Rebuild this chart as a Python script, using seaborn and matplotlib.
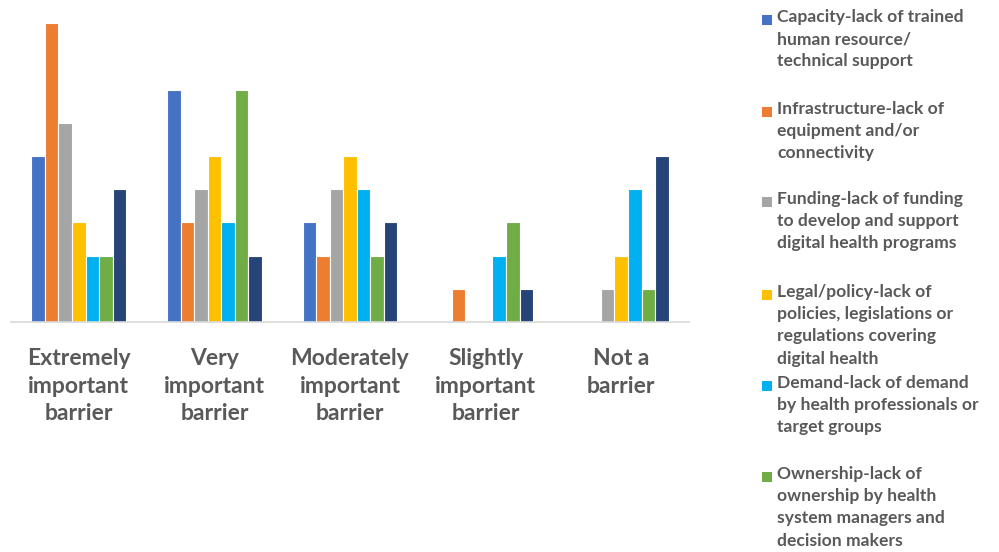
import matplotlib
matplotlib.use("Agg")
import matplotlib.pyplot as plt
from matplotlib.patches import Rectangle
import seaborn as sns
import pandas as pd

categories = [
    "Extremely\nimportant\nbarrier",
    "Very\nimportant\nbarrier",
    "Moderately\nimportant\nbarrier",
    "Slightly\nimportant\nbarrier",
    "Not a\nbarrier",
]

series_names = [
    "Capacity-lack of trained\nhuman resource/\ntechnical support",
    "Infrastructure-lack of\nequipment and/or\nconnectivity",
    "Funding-lack of funding\nto develop and support\ndigital health programs",
    "Legal/policy-lack of\npolicies, legislations or\nregulations covering\ndigital health",
    "Demand-lack of demand\nby health professionals or\ntarget groups",
    "Ownership-lack of\nownership by health\nsystem managers and\ndecision makers",
    "Other",
]

capacity = [5, 7, 3, 0, 0]
infrastructure = [9, 3, 2, 1, 0]
funding = [6, 4, 4, 0, 1]
legal_policy = [3, 5, 5, 0, 2]
demand = [2, 3, 4, 2, 4]
ownership = [2, 7, 2, 3, 1]
other = [4, 2, 3, 1, 5]

colors = ["#4472C4", "#ED7D31", "#A5A5A5", "#FFC000", "#00B0F0", "#70AD47", "#264478"]

all_values = [capacity, infrastructure, funding, legal_policy, demand, ownership, other]
rows = []
for name, vals in zip(series_names, all_values):
    for cat, v in zip(categories, vals):
        rows.append({"category": cat, "series": name, "count": v})
df = pd.DataFrame(rows)

sns.set_style("white")
plt.rcParams["font.family"] = ["Lato", "DejaVu Sans"]

fig = plt.figure(figsize=(9.99, 5.52), dpi=100)
ax = fig.add_axes([11 / 999, 1 - 322 / 552, 678 / 999, 9.6 * 33.2 / 552])

sns.barplot(
    data=df, x="category", y="count", hue="series",
    order=categories, hue_order=series_names,
    palette=colors, saturation=1, width=0.7,
    edgecolor="white", linewidth=0.8, legend=False, ax=ax,
)

ax.set_ylim(0, 9.6)
ax.set_xlim(-0.5, 4.5)
ax.set_xlabel("")
ax.set_ylabel("")
ax.set_yticks([])
for s in ["top", "right", "left"]:
    ax.spines[s].set_visible(False)
ax.spines["bottom"].set_color("#D9D9D9")
ax.spines["bottom"].set_linewidth(1.2)
ax.tick_params(axis="x", length=0, pad=19)
for lbl in ax.get_xticklabels():
    lbl.set_fontsize(16.5)
    lbl.set_color("#595959")
    lbl.set_fontweight("bold")
    lbl.set_linespacing(1.38)

# Side key: one square and a top-aligned label per series
entry_tops = [9, 101, 191, 284, 375, 466]
for name, color, top in zip(series_names[:6], colors[:6], entry_tops):
    fig.patches.append(Rectangle((762 / 999, 1 - (top + 16) / 552), 10 / 999, 10 / 552,
                                 transform=fig.transFigure, facecolor=color,
                                 edgecolor="none"))
    fig.text(777 / 999, 1 - top / 552, name, ha="left", va="top",
             fontsize=12.6, color="#595959", fontweight="bold", linespacing=1.48)

fig.savefig("out.png", dpi=100, facecolor="white")
